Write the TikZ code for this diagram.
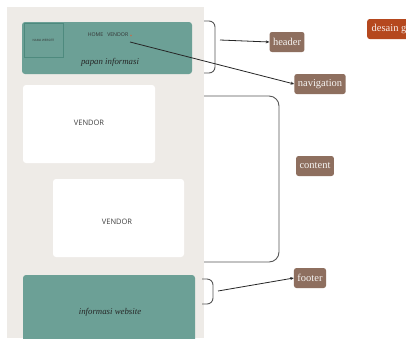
\documentclass[tikz,border=0pt]{standalone}
\usepackage{fontspec}
\setmainfont{Liberation Serif}
\setsansfont{Open Sans}
\usetikzlibrary{arrows.meta}
\definecolor{panelbg}{HTML}{EEEBE7}
\definecolor{tealbox}{HTML}{6CA096}
\definecolor{tealdark}{HTML}{4E8A7E}
\definecolor{labelbrown}{HTML}{8E6F5F}
\definecolor{desainred}{HTML}{B5481E}
\definecolor{bracketgray}{HTML}{555555}
\tikzset{
  tag/.style={fill=labelbrown, text=white!92!labelbrown, rounded corners=2.5pt, inner xsep=3.5pt, inner ysep=0pt, minimum height=20pt, font=\fontsize{10.5}{12}\selectfont, anchor=center},
  bracket/.style={draw=bracketgray, line width=0.9pt, rounded corners=6pt},
  conn/.style={draw=black!85, line width=0.8pt, -{Stealth[length=3.5pt,width=3pt]}},
  vendorbox/.style={fill=white, rounded corners=3pt},
  vendortext/.style={font=\sffamily\fontsize{7.5}{9}\selectfont, text=black!75},
  scripttext/.style={font=\itshape\fontsize{8.8}{10}\selectfont, text=black!85}
}
\begin{document}
\begin{tikzpicture}[x=1pt,y=-1pt]
\useasboundingbox (0,0) rectangle (406,338);
\fill[white] (0,0) rectangle (406,338);
% panel
\fill[panelbg] (7,7) rectangle (204,338);
% header
\fill[tealbox, rounded corners=3pt] (22,22) rectangle (192,74);
\node[draw=tealdark, line width=0.9pt, minimum width=39pt, minimum height=34pt, inner sep=0pt, font=\sffamily\fontsize{3}{4}\selectfont, text=black!80] (nama) at (43.5,40) {NAMA WEBSITE};
\node[font=\sffamily\fontsize{5.2}{6}\selectfont, text=black!80, inner sep=0pt] (menu) at (108,35) {HOME\hspace{4pt}VENDOR};
\fill[desainred!80] (131,35.5) circle (0.8pt);
\coordinate (navstart) at (130,42);
\node[scripttext] (papan) at (110,62) {papan informasi};
% vendors
\fill[vendorbox] (23,85) rectangle (155,163);
\node[vendortext] (v1) at (89,123) {VENDOR};
\fill[vendorbox] (53,179) rectangle (184,257);
\node[vendortext] (v2) at (117,222) {VENDOR};
% footer
\fill[tealbox, rounded corners=3pt] (23,275) rectangle (195,345);
\node[scripttext] (info) at (110,312) {informasi website};
% brackets
\draw[bracket] (204,21) -- (215,21) -- (215,73) -- (204,73);
\draw[bracket, rounded corners=10pt] (204,96) -- (279,96) -- (279,262) -- (204,262);
\draw[bracket] (202,279) -- (213,279) -- (213,304) -- (202,304);
% labels
\node[tag] (header) at (287,42) {header};
\node[tag] (navigation) at (320,84) {navigation};
\node[tag] (content) at (315,166) {content};
\node[tag] (footer) at (310,278) {footer};
\node[tag, fill=desainred, anchor=west, text=white!90!desainred, inner xsep=4.5pt] (desain) at (367,29) {desain g};
% connectors
\coordinate (hstart) at (220,40);
\coordinate (fstart) at (218,291);
\draw[conn] (hstart) -- (header.west);
\draw[conn] (navstart) -- (navigation.west);
\draw[conn] (fstart) -- (footer.west);
\end{tikzpicture}
\end{document}
